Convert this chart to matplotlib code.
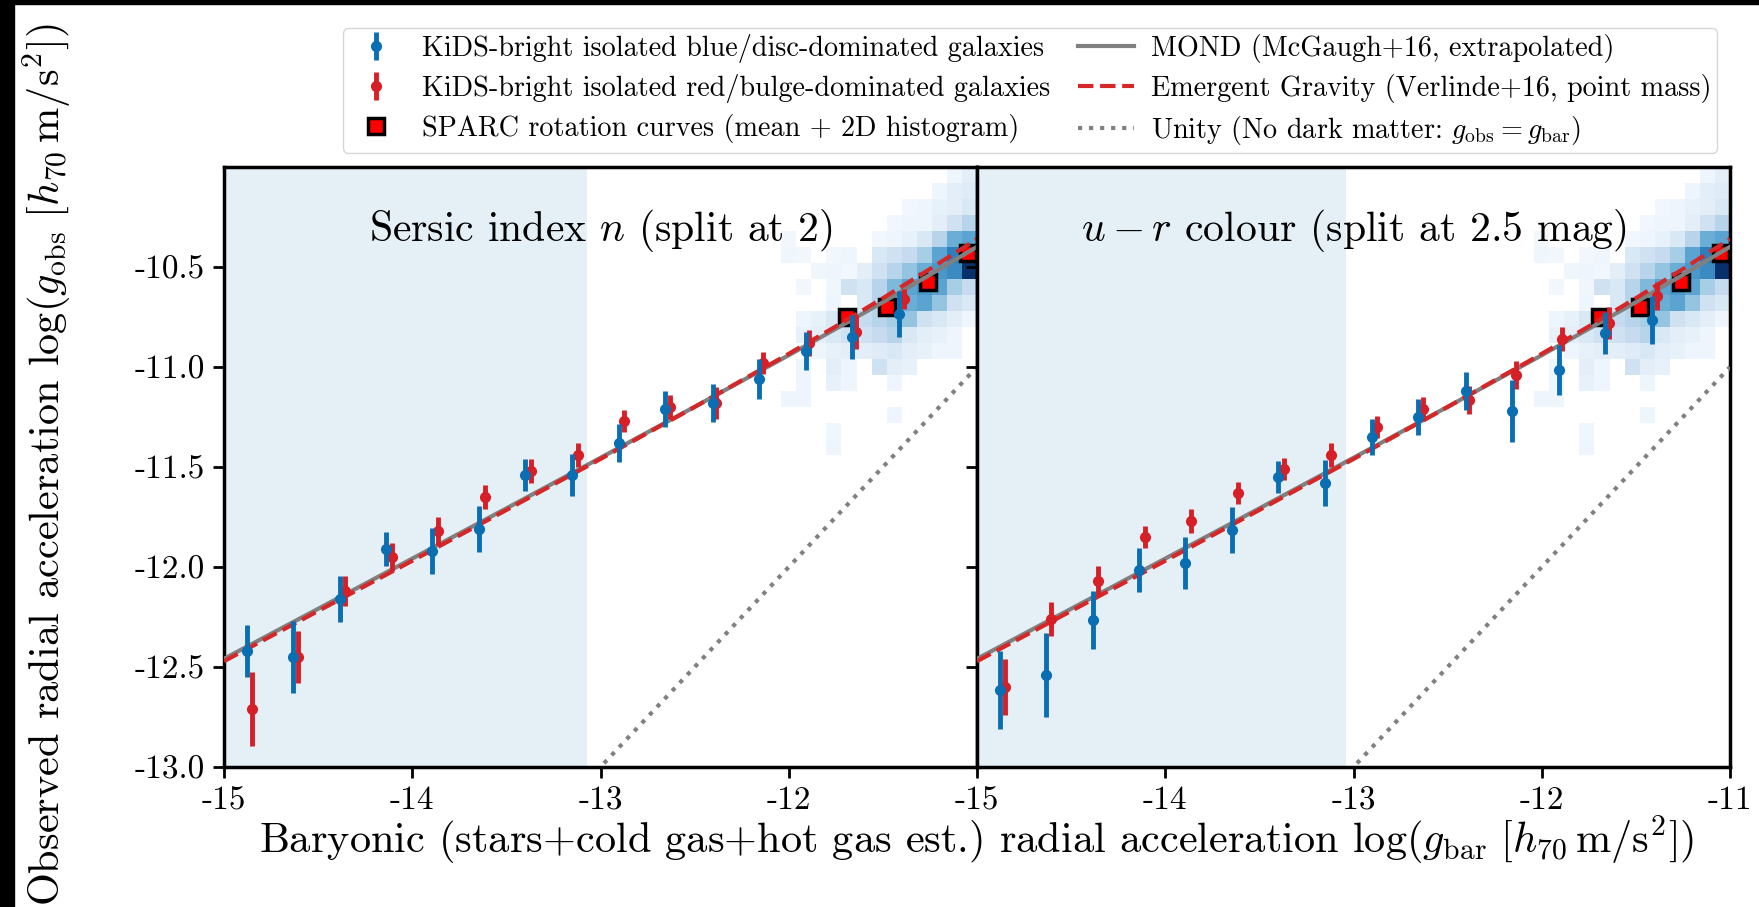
import numpy as np
import matplotlib
matplotlib.use("Agg")
from matplotlib import pyplot as plt
from matplotlib.patches import Rectangle
from matplotlib.ticker import FormatStrFormatter

plt.rcParams['font.family'] = 'cmr10'
plt.rcParams['mathtext.fontset'] = 'cm'
plt.rcParams['axes.formatter.use_mathtext'] = True
plt.rcParams['axes.unicode_minus'] = False

# binned lensing RAR, log10(g_bar) bin centres (red offset a bit to the right)
gbar_blue = [-14.88, -14.635, -14.385, -14.14, -13.895, -13.645, -13.40, -13.15,
             -12.90, -12.655, -12.405, -12.16, -11.91, -11.665, -11.415]
gbar_red = [-14.85, -14.605, -14.355, -14.11, -13.865, -13.615, -13.37, -13.12,
            -12.875, -12.63, -12.385, -12.135, -11.89, -11.645, -11.39]

# Sersic index split
sersic_blue = [-12.42, -12.45, -12.16, -11.91, -11.92, -11.81, -11.54, -11.54,
               -11.38, -11.21, -11.18, -11.06, -10.92, -10.85, -10.735]
sersic_blue_err = [0.13, 0.18, 0.115, 0.085, 0.115, 0.115, 0.08, 0.105,
                   0.095, 0.09, 0.095, 0.10, 0.095, 0.11, 0.115]
sersic_red = [-12.71, -12.45, -12.12, -11.95, -11.82, -11.65, -11.52, -11.44,
              -11.27, -11.20, -11.18, -10.98, -10.88, -10.825, -10.66]
sersic_red_err = [0.185, 0.13, 0.075, 0.07, 0.07, 0.06, 0.06, 0.06,
                  0.055, 0.06, 0.08, 0.055, 0.065, 0.085, 0.05]

# u-r colour split
colour_blue = [-12.615, -12.54, -12.265, -12.015, -11.98, -11.815, -11.55, -11.58,
               -11.35, -11.25, -11.12, -11.22, -11.015, -10.83, -10.765]
colour_blue_err = [0.195, 0.21, 0.145, 0.11, 0.13, 0.115, 0.08, 0.115,
                   0.09, 0.09, 0.095, 0.155, 0.125, 0.105, 0.12]
colour_red = [-12.60, -12.26, -12.07, -11.85, -11.77, -11.63, -11.51, -11.44,
              -11.30, -11.21, -11.165, -11.04, -10.86, -10.78, -10.645]
colour_red_err = [0.14, 0.085, 0.075, 0.055, 0.06, 0.055, 0.055, 0.06,
                  0.055, 0.06, 0.07, 0.07, 0.06, 0.08, 0.07]

# SPARC mean
sparc_gbar = [-11.69, -11.48, -11.26, -11.05]
sparc_gobs = [-10.75, -10.70, -10.575, -10.43]

# SPARC 2D histogram (relative density), rows from top (g_obs=-10.0) downwards,
# columns from g_bar=-12.04 to -11.0
sparc_hist_top_down = [
    [0, 0, 0, 0, 0, 0, 0, 0, 0, 0, 0, .05, .10],
    [0, 0, 0, 0, 0, 0, 0, 0, 0, 0, .05, .10, .12],
    [0, 0, 0, 0, 0, 0, 0, 0, .03, .05, .08, .10, .15],
    [0, 0, 0, 0, 0, 0, 0, .03, .05, .05, .10, .20, .30],
    [.03, 0, 0, 0, 0, 0, .03, .05, .08, .15, .30, .50, .55],
    [.04, .03, 0, .03, .05, 0, .15, .20, .25, .35, .55, .70, .60],
    [0, 0, .04, .05, .03, .10, .20, .30, .40, .50, .60, .65, 1.0],
    [0, .03, 0, .04, .20, .15, .30, .45, .55, .60, .55, .35, .25],
    [0, 0, 0, .05, 0, .15, .30, .45, .50, .55, .40, .20, .15],
    [0, .05, .08, .15, .20, .25, .30, .35, .40, .20, .15, .10, .05],
    [0, .08, .10, .15, .20, .20, .25, .30, .15, .10, .08, .05, 0],
    [0, 0, .05, .08, .10, .10, .12, .15, .10, .08, .05, .05, 0],
    [0, .05, 0, .10, .05, 0, .20, .10, .08, 0, 0, 0, 0],
    [0, .05, 0, .08, .05, 0, 0, .05, 0, 0, 0, 0, 0],
    [.05, .05, 0, 0, 0, 0, 0, 0, 0, 0, 0, 0, 0],
    [0, 0, 0, 0, 0, 0, 0, .05, 0, 0, 0, 0, 0],
    [0, 0, 0, .04, 0, 0, 0, 0, 0, 0, 0, 0, 0],
    [0, 0, 0, .05, 0, 0, 0, 0, 0, 0, 0, 0, 0],
    [0, 0, 0, 0, 0, 0, 0, 0, 0, 0, 0, 0, 0],
]
hist_x_edges = np.linspace(-12.04, -11.0, 14)
hist_y_edges = np.linspace(-11.52, -10.0, 20)

# model curves
model_gbar = [-15, -14.5, -14, -13.5, -13, -12.5, -12, -11.75, -11.5, -11.25, -11]
mond_gobs = [-12.459, -12.209, -11.958, -11.707, -11.454, -11.199, -10.941,
             -10.809, -10.676, -10.539, -10.399]
eg_gobs = [-12.471, -12.220, -11.969, -11.715, -11.460, -11.200, -10.934,
           -10.797, -10.656, -10.510, -10.360]
unity = [-15, -11]

# low-acceleration region (isolation limit)
shade_edge = [-13.07, -13.04]

titles = [r'Sersic index $n$ (split at 2)', r'$u-r$ colour (split at 2.5 mag)']

blue = '#0a6eb2'
red = '#d61f26'

fig = plt.figure(figsize=(17.59, 9.07), dpi=100)
ax1 = fig.add_axes([224/1759, 140/907, 753/1759, 600/907])
ax2 = fig.add_axes([977/1759, 140/907, 753/1759, 600/907])

hist = np.ma.masked_equal(np.flipud(np.array(sparc_hist_top_down)), 0)

panels = [(ax1, sersic_blue, sersic_blue_err, sersic_red, sersic_red_err),
          (ax2, colour_blue, colour_blue_err, colour_red, colour_red_err)]

for k, (ax, by, be, ry, re) in enumerate(panels):
    ax.axvspan(-15, shade_edge[k], color='#e4eff6', lw=0, zorder=0)
    ax.pcolormesh(hist_x_edges, hist_y_edges, hist, cmap='Blues', vmin=0, vmax=1, zorder=1)
    ax.plot(sparc_gbar, sparc_gobs, 's', color='red', mec='black', mew=2.5, ms=12,
            zorder=2, label='SPARC rotation curves (mean + 2D histogram)')
    ax.plot(model_gbar, mond_gobs, '-', color='grey', lw=3, zorder=3,
            label='MOND (McGaugh+16, extrapolated)')
    ax.plot(model_gbar, eg_gobs, '--', color='#d62728', lw=3, zorder=3,
            label='Emergent Gravity (Verlinde+16, point mass)')
    ax.plot(unity, unity, ':', color='grey', lw=3, zorder=3,
            label=r'Unity (No dark matter: $g_{\rm obs} = g_{\rm bar}$)')
    ax.errorbar(gbar_blue, by, yerr=be, fmt='o', color=blue, ms=7, elinewidth=3.5,
                capsize=0, zorder=5, label='KiDS-bright isolated blue/disc-dominated galaxies')
    ax.errorbar(gbar_red, ry, yerr=re, fmt='o', color=red, ms=7, elinewidth=3.5,
                capsize=0, zorder=4, label='KiDS-bright isolated red/bulge-dominated galaxies')

    ax.set_xlim(-15, -11)
    ax.set_ylim(-13, -10)
    ax.set_yticks([-13.0, -12.5, -12.0, -11.5, -11.0, -10.5])
    ax.yaxis.set_major_formatter(FormatStrFormatter('%.1f'))
    ax.xaxis.set_major_formatter(FormatStrFormatter('%d'))
    ax.tick_params(direction='out', length=8, width=2, labelsize=24, pad=6)
    for s in ax.spines.values():
        s.set_linewidth(2.5)
    ax.text(0.5, 0.895, titles[k], transform=ax.transAxes, ha='center', va='center',
            fontsize=30, zorder=6)

ax1.set_xticks([-15, -14, -13, -12])
ax2.set_xticks([-15, -14, -13, -12, -11])
ax2.tick_params(labelleft=False)

h, l = ax1.get_legend_handles_labels()
order = [4, 5, 0, 1, 2, 3]
fig.legend([h[i] for i in order], [l[i] for i in order], loc='upper center',
           bbox_to_anchor=(0.5856, 0.9691), ncol=2, fontsize=20.3, handlelength=2.0,
           handletextpad=0.6, columnspacing=1.0, labelspacing=0.4, borderpad=0.2,
           borderaxespad=0)

fig.text(977/1759, 0.074,
         r'Baryonic (stars+cold gas+hot gas est.) radial acceleration $\log(g_{\rm bar}\ [h_{70}\,{\rm m/s^2}])$',
         ha='center', va='center', fontsize=30.5)
fig.text(0.027, 0.488,
         r'Observed radial acceleration $\log(g_{\rm obs}\ [h_{70}\,{\rm m/s^2}])$',
         ha='center', va='center', rotation=90, fontsize=30.5)

# dark screen edges
fig.patches.append(Rectangle((0, 1 - 4/907), 1, 4/907, transform=fig.transFigure,
                             color='black', zorder=10))
fig.patches.append(Rectangle((0, 0), 14/1759, 1, transform=fig.transFigure,
                             color='black', zorder=10))

fig.savefig('out.png', dpi=100)
